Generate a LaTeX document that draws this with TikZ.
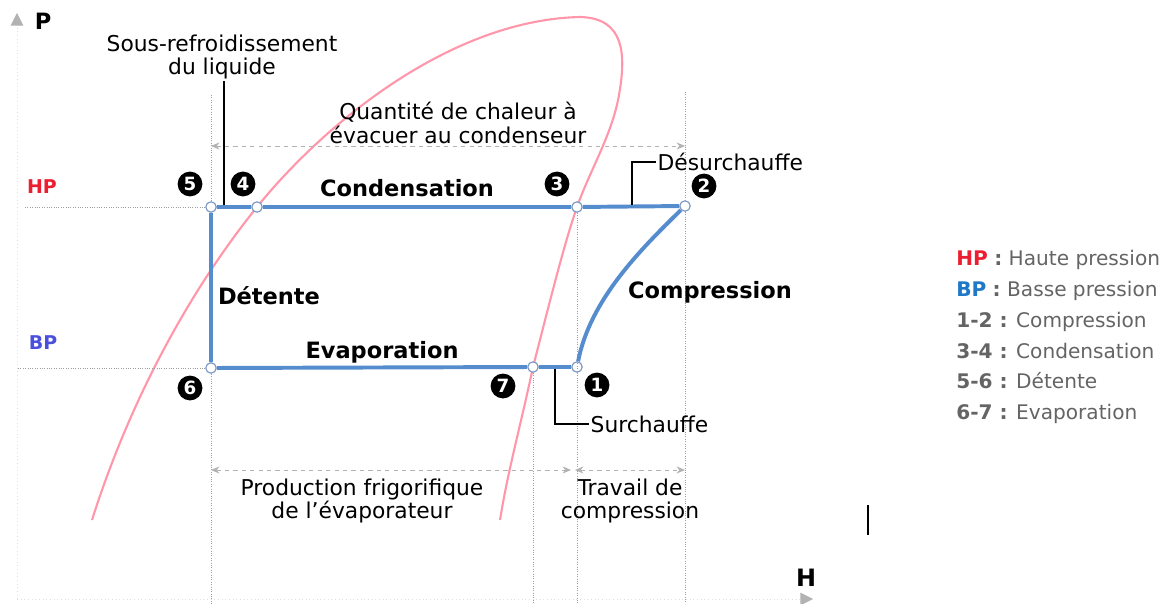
\documentclass[tikz,border=0pt]{standalone}
\usepackage{fontspec}
\setmainfont{DejaVu Sans}
\usetikzlibrary{arrows.meta,positioning}
\definecolor{bleucycle}{RGB}{85,140,205}
\definecolor{bordpoint}{RGB}{120,150,195}
\definecolor{rosecourbe}{RGB}{255,150,170}
\definecolor{rougeHP}{RGB}{235,30,50}
\definecolor{bleuBP}{RGB}{75,80,220}
\definecolor{bleulegende}{RGB}{30,120,200}
\definecolor{grislegende}{RGB}{100,100,100}
\tikzset{
    point/.style={circle, draw=bordpoint, fill=white, line width=0.8pt, inner sep=0pt, minimum size=0.26cm},
    numero/.style={circle, fill=black, text=white, font=\fontsize{13}{13}\selectfont\bfseries, inner sep=0pt, minimum size=0.62cm},
    texte/.style={font=\fontsize{15.5}{17}\selectfont, align=center, inner sep=1pt},
    phase/.style={font=\fontsize{16}{18}\selectfont\bfseries},
    cyclefrigo/.style={bleucycle, line width=2.8pt, line join=round},
    saturation/.style={rosecourbe, line width=1.5pt},
    repere/.style={gray!75, densely dotted, line width=0.7pt},
    cote/.style={gray!60, dashed, line width=0.5pt, {Stealth[length=6pt,width=5pt]}-{Stealth[length=6pt,width=5pt]}},
    renvoi/.style={black, line width=0.9pt},
    axe/.style={gray!25, dotted, line width=0.6pt},
    legende/.style={font=\fontsize{14.3}{22}\selectfont, text=grislegende, align=left, anchor=west, inner sep=0pt}
}
\begin{document}
\begin{tikzpicture}[x=0.025cm, y=-0.025cm, >=Stealth]
    \useasboundingbox (0,0) rectangle (1171,604);
    % courbe de saturation
    \draw[saturation] (92,520) .. controls (130,400) and (190,290) .. (257,207)
        .. controls (324,124) and (450,20) .. (580,17)
        .. controls (625,18) and (626,55) .. (619,95)
        .. controls (612,135) and (590,170) .. (577,207)
        .. controls (564,244) and (549,305) .. (533,367)
        .. controls (521,424) and (508,470) .. (500,520);
    % axes
    \coordinate (origine) at (17,599);
    \coordinate (axeP) at (17,13);
    \coordinate (axeH) at (813,599);
    \draw[axe, -{Triangle[length=9pt,width=9pt,color=gray!60]}] (origine) -- (axeP);
    \draw[axe, -{Triangle[length=9pt,width=9pt,color=gray!60]}] (origine) -- (axeH);
    \node[font=\fontsize{16}{16}\selectfont\bfseries] (P) at (43,21) {P};
    \node[font=\fontsize{17}{17}\selectfont\bfseries] (H) at (806,578) {H};
    % points du cycle
    \node[point] (p1) at (577,367) {};
    \node[point] (p2) at (685,206) {};
    \node[point] (p3) at (577,207) {};
    \node[point] (p4) at (257,207) {};
    \node[point] (p5) at (211,207) {};
    \node[point] (p6) at (211,368) {};
    \node[point] (p7) at (533,367) {};
    % lignes de repere
    \coordinate (gHP) at (25,207);
    \coordinate (gBP) at (18,368);
    \coordinate (haut5) at (211,95);
    \coordinate (bas5) at (211,604);
    \coordinate (haut2) at (685,92);
    \coordinate (bas2) at (685,604);
    \coordinate (bas3) at (577,604);
    \coordinate (bas7) at (533,604);
    \draw[repere] (gHP) -- (p5);
    \draw[repere] (gBP) -- (p6);
    \draw[repere] (haut5) -- (p5);
    \draw[repere] (p6) -- (bas5);
    \draw[repere] (haut2) -- (p2);
    \draw[repere] (p2) -- (bas2);
    \draw[repere] (p3) -- (bas3);
    \draw[repere] (p7) -- (bas7);
    \node[font=\fontsize{13.5}{14}\selectfont\bfseries, text=rougeHP] (HP) at (42,187) {HP};
    \node[font=\fontsize{13.5}{14}\selectfont\bfseries, text=bleuBP] (BP) at (43,343) {BP};
    % cycle
    \draw[cyclefrigo] (p5) -- (p4) -- (p3) -- (p2);
    \draw[cyclefrigo] (p5) -- (p6) -- (p7) -- (p1);
    \draw[cyclefrigo] (p1) .. controls (590,300) and (640,250) .. (p2);
    % numeros
    \node[numero] (n1) at (597,385) {1};
    \node[numero] (n2) at (704,186) {2};
    \node[numero] (n3) at (557,184) {3};
    \node[numero] (n4) at (243,184) {4};
    \node[numero] (n5) at (190,184) {5};
    \node[numero] (n6) at (190,388) {6};
    \node[numero] (n7) at (503,386) {7};
    % phases
    \node[phase] (condensation) at (407,188) {Condensation};
    \node[phase] (detente) at (269,296) {Détente};
    \node[phase] (evaporation) at (382,352) {Evaporation};
    \node[phase] (compression) at (710,292) {Compression};
    % cotes
    \coordinate (q1) at (211,146);
    \coordinate (q2) at (685,146);
    \coordinate (f1) at (211,470);
    \coordinate (f2) at (571,470);
    \coordinate (t1) at (575,470);
    \coordinate (t2) at (685,470);
    \draw[cote] (q1) -- (q2);
    \draw[cote] (f1) -- (f2);
    \draw[cote] (t1) -- (t2);
    \node[texte] (chaleur) at (458,123) {Quantité de chaleur à\\évacuer au condenseur};
    \node[texte] (production) at (362,501) {Production frigorifique\\de l'évaporateur};
    \node[texte] (travail) at (630,501) {Travail de\\compression};
    % renvois
    \node[texte] (sousref) at (222,57) {Sous-refroidissement\\du liquide};
    \node[texte, anchor=west] (desurch) at (656,162) {Désurchauffe};
    \node[texte, anchor=west] (surch) at (589,424) {Surchauffe};
    \coordinate (r0) at (224,205);
    \coordinate (d0) at (632,205);
    \coordinate (s0) at (555,369);
    \draw[renvoi] (r0) -- (r0 |- sousref.south);
    \draw[renvoi] (d0) |- (desurch.west);
    \draw[renvoi] (s0) |- (surch.west);
    % legende
    \node[legende] (legende) at (956,337) {\textcolor{rougeHP}{\textbf{HP}} \textbf{:} Haute pression\\
        \textcolor{bleulegende}{\textbf{BP}} \textbf{:} Basse pression\\
        \textbf{1-2 :} Compression\\
        \textbf{3-4 :} Condensation\\
        \textbf{5-6 :} Détente\\
        \textbf{6-7 :} Evaporation};
    % curseur
    \coordinate (c1) at (868,505);
    \coordinate (c2) at (868,535);
    \draw[black, line width=1pt] (c1) -- (c2);
\end{tikzpicture}
\end{document}
